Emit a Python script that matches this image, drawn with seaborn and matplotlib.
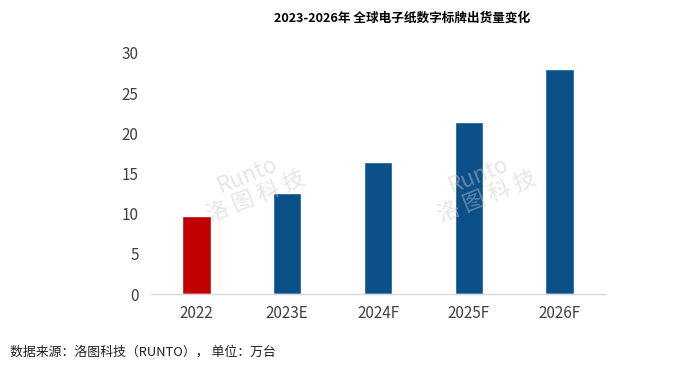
import matplotlib
matplotlib.use("Agg")

import matplotlib.pyplot as plt
import seaborn as sns
import pandas as pd

# data (unit: 万台)
years = ["2022", "2023E", "2024F", "2025F", "2026F"]
shipments = [9.7, 12.6, 16.5, 21.4, 28.0]
bar_colors = ["#C00000", "#0B5089", "#0B5089", "#0B5089", "#0B5089"]

sns.set_theme(style="white")
plt.rcParams["font.family"] = ["Noto Sans CJK SC", "DejaVu Sans"]

df = pd.DataFrame({"year": years, "value": shipments})

fig = plt.figure(figsize=(7, 3.84), dpi=100)
ax = fig.add_axes([0.216, 0.234, 0.648, 0.628])

sns.barplot(data=df, x="year", y="value", hue="year", palette=bar_colors,
            width=0.31, legend=False, ax=ax, saturation=1)

ax.set_xlim(-0.5, 4.5)
ax.set_ylim(0, 30)
ax.set_yticks([0, 5, 10, 15, 20, 25, 30])
ax.set_xlabel("")
ax.set_ylabel("")
for s in ["top", "right", "left"]:
    ax.spines[s].set_visible(False)
ax.spines["bottom"].set_color("#d9d9d9")
ax.spines["bottom"].set_linewidth(1)
ax.tick_params(axis="both", length=0, labelsize=11, colors="#404040", pad=8)
ax.tick_params(axis="y", pad=9)

# watermarks
for xpos in [0.36, 0.69]:
    fig.text(xpos, 0.515, "Runto\n洛 图 科 技", fontsize=16, color="#c8c8c8",
             alpha=0.45, rotation=22, ha="center", va="center", style="italic",
             linespacing=1.0)

fig.text(0.575, 0.952, "2023-2026年 全球电子纸数字标牌出货量变化",
         ha="center", va="center", fontsize=9.1, fontweight="bold", color="#000000")
fig.text(0.014, 0.083, "数据来源：洛图科技（RUNTO）， 单位：万台",
         ha="left", va="center", fontsize=9.3, color="#202020")

plt.savefig("out.png", dpi=100)
plt.close()
